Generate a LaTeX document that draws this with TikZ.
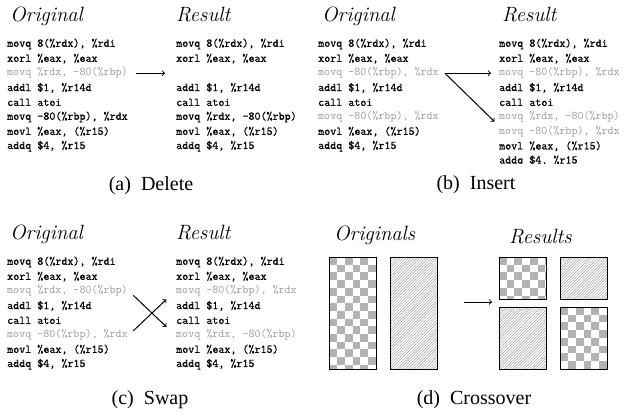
\documentclass[tikz,border=0pt]{standalone}
\usepackage{fontspec}
\newfontfamily\capfont{Liberation Serif}
\newfontfamily\codefont{Latin Modern Mono}[FakeBold=1]
\newfontfamily\dimfont{Latin Modern Mono}
\usetikzlibrary{patterns.meta}
\newcommand{\dimline}[1]{{\dimfont\color{black!40}#1}}

\begin{document}
\begin{tikzpicture}[x=1pt, y=1pt,
    code/.style={anchor=west, inner sep=1pt, font=\fontsize{11.7}{14}\selectfont\codefont},
    title/.style={anchor=base west, inner sep=0pt, font=\fontsize{20.7}{24}\selectfont\itshape},
    capt/.style={anchor=base, inner sep=0pt, font=\fontsize{20}{24}\selectfont\capfont},
    arr/.style={->, line width=1pt},
    block/.style={draw, line width=0.8pt, inner sep=0pt, minimum width=47pt},
    checker/.style={block, path picture={
        \foreach \i in {0,...,3} \foreach \j in {0,...,14}
          \fill[black!30] (path picture bounding box.north west)
            ++({(2*\i+mod(\j,2))*7.7},{-\j*7.7}) rectangle ++(7.7,-7.7);
      }},
    hatch/.style={block, pattern={Lines[angle=45, distance=2pt, line width=0.45pt]}, pattern color=black!40}
  ]
  \useasboundingbox (0,0) rectangle (624,-415);

  % (a) Delete
  \node[title] (a-orig) at (10,-21) {Original};
  \node[title] (a-res) at (176,-21) {Result};
  \foreach \t [count=\i] in {{movq 8(\%rdx), \%rdi}, {xorl \%eax, \%eax},
      {\dimline{movq \%rdx, -80(\%rbp)}}, {addl \$1, \%r14d}, {call atoi},
      {movq -80(\%rbp), \%rdx}, {movl \%eax, (\%r15)}, {addq \$4, \%r15}}
    \node[code] (ao\i) at (6,{-44-14.6*(\i-1)}) {\t};
  \foreach \t [count=\i] in {{movq 8(\%rdx), \%rdi}, {xorl \%eax, \%eax}, {},
      {addl \$1, \%r14d}, {call atoi}, {movq \%rdx, -80(\%rbp)},
      {movl \%eax, (\%r15)}, {addq \$4, \%r15}}
    \node[code] (ar\i) at (175,{-44-14.6*(\i-1)}) {\t};
  \draw[arr, shorten <=7pt, shorten >=10pt] (ao3.east) -- (ar3.west);
  \node[capt] (a-cap) at (151,-190) {(a)\enskip Delete};

  % (b) Insert
  \node[title] (b-orig) at (322,-21) {Original};
  \node[title] (b-res) at (502,-21) {Result};
  \foreach \t [count=\i] in {{movq 8(\%rdx), \%rdi}, {xorl \%eax, \%eax},
      {\dimline{movq -80(\%rbp), \%rdx}}, {addl \$1, \%r14d}, {call atoi},
      {\dimline{movq -80(\%rbp), \%rdx}}, {movl \%eax, (\%r15)}, {addq \$4, \%r15}}
    \node[code] (bo\i) at (317,{-44-14.6*(\i-1)}) {\t};
  \begin{scope}
    \clip (490,-30) rectangle (624,-163.5);
    \foreach \t [count=\i] in {{movq 8(\%rdx), \%rdi}, {xorl \%eax, \%eax},
        {\dimline{movq -80(\%rbp), \%rdx}}, {addl \$1, \%r14d}, {call atoi},
        {\dimline{movq \%rdx, -80(\%rbp)}}, {\dimline{movq -80(\%rbp), \%rdx}},
        {movl \%eax, (\%r15)}, {addq \$4, \%r15}}
      \node[code] (br\i) at (498,{-44-14.6*(\i-1)}) {\t};
  \end{scope}
  \coordinate (b-fork) at ([xshift=5pt]bo3.east);
  \draw[arr, shorten >=7pt] (b-fork) -- (br3.west);
  \draw[arr, shorten >=5pt] (b-fork) -- (br7.north west);
  \node[capt] (b-cap) at (476,-189) {(b)\enskip Insert};

  % (c) Swap
  \node[title] (c-orig) at (10,-239) {Original};
  \node[title] (c-res) at (176,-239) {Result};
  \foreach \t [count=\i] in {{movq 8(\%rdx), \%rdi}, {xorl \%eax, \%eax},
      {\dimline{movq \%rdx, -80(\%rbp)}}, {addl \$1, \%r14d}, {call atoi},
      {\dimline{movq -80(\%rbp), \%rdx}}, {movl \%eax, (\%r15)}, {addq \$4, \%r15}}
    \node[code] (co\i) at (6,{-262-14.6*(\i-1)}) {\t};
  \foreach \t [count=\i] in {{movq 8(\%rdx), \%rdi}, {xorl \%eax, \%eax},
      {\dimline{movq -80(\%rbp), \%rdx}}, {addl \$1, \%r14d}, {call atoi},
      {\dimline{movq \%rdx, -80(\%rbp)}}, {movl \%eax, (\%r15)}, {addq \$4, \%r15}}
    \node[code] (cr\i) at (175,{-262-14.6*(\i-1)}) {\t};
  \draw[arr, shorten <=6pt, shorten >=12pt] (co3.east) -- (cr6.west);
  \draw[arr, shorten <=6pt, shorten >=12pt] (co6.east) -- (cr3.west);
  \node[capt] (c-cap) at (150,-404) {(c)\enskip Swap};

  % (d) Crossover
  \node[title] (d-orig) at (334,-240) {Originals};
  \node[title] (d-res) at (509,-243) {Results};
  \node[checker, minimum height=112pt] (d-check) at (353,-313) {};
  \node[hatch, minimum height=112pt] (d-hatch) at (414,-313) {};
  \node[checker, minimum height=42pt] (d-tl) at (522.5,-278) {};
  \node[hatch, minimum height=42pt] (d-tr) at (584,-278) {};
  \node[hatch, minimum height=62pt] (d-bl) at (522.5,-338) {};
  \node[checker, minimum height=62pt] (d-br) at (584,-338) {};
  \coordinate (d-from) at (464,-302);
  \coordinate (d-to) at (492,-302);
  \draw[arr] (d-from) -- (d-to);
  \node[capt] (d-cap) at (474,-404) {(d)\enskip Crossover};
\end{tikzpicture}
\end{document}
